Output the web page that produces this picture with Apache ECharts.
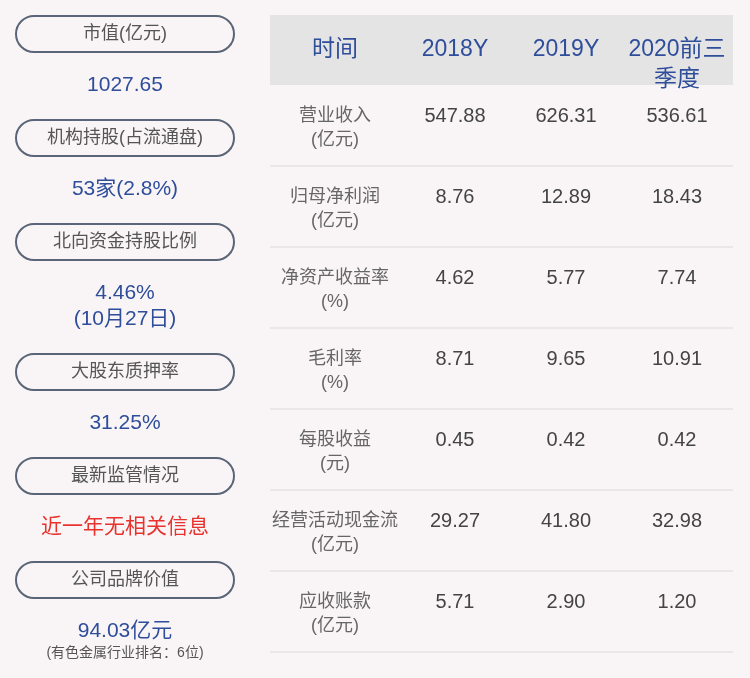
<!DOCTYPE html>
<html>
<head>
<meta charset="utf-8">
<script src="https://cdn.jsdelivr.net/npm/echarts@6/dist/echarts.min.js"></script>
<style>html,body{margin:0;padding:0;background:#f9f5f6}#main{width:750px;height:678px}</style>
</head>
<body>
<div id="main"></div>
<script>
// left panel
var pillLabels = ['市值(亿元)', '机构持股(占流通盘)', '北向资金持股比例', '大股东质押率', '最新监管情况', '公司品牌价值'];
var pillValues = ['1027.65', '53家(2.8%)', '4.46%\n(10月27日)', '31.25%', '近一年无相关信息', '94.03亿元'];
var brandNote = '(有色金属行业排名：6位)';

// table
var headers = ['时间', '2018Y', '2019Y', '2020前三\n季度'];
var rowLabels = ['营业收入\n(亿元)', '归母净利润\n(亿元)', '净资产收益率\n(%)', '毛利率\n(%)', '每股收益\n(元)', '经营活动现金流\n(亿元)', '应收账款\n(亿元)'];
var v2018 = ['547.88', '8.76', '4.62', '8.71', '0.45', '29.27', '5.71'];
var v2019 = ['626.31', '12.89', '5.77', '9.65', '0.42', '41.80', '2.90'];
var v2020 = ['536.61', '18.43', '7.74', '10.91', '0.42', '32.98', '1.20'];

var font = '"Liberation Sans", "Noto Sans CJK SC", sans-serif';
var blue = '#2e4d9a';
var els = [];

var pillY = [34, 138, 242, 372, 476, 580];
var valY = [85, 189, 306, 423, 527, 631];
pillLabels.forEach(function (t, i) {
    els.push({type: 'rect', shape: {x: 16, y: pillY[i] - 18, width: 218, height: 36, r: 18},
        style: {fill: 'none', stroke: '#5a6577', lineWidth: 2}});
    els.push({type: 'text', x: 125, y: pillY[i], style: {text: t, fill: '#555', font: '18px ' + font,
        align: 'center', verticalAlign: 'middle'}});
    els.push({type: 'text', x: 125, y: valY[i], style: {text: pillValues[i], fill: i === 4 ? '#e8322e' : blue,
        font: '21px ' + font, align: 'center', verticalAlign: 'middle', lineHeight: 26}});
});
els.push({type: 'text', x: 125, y: 653, style: {text: brandNote, fill: '#555', font: '14px ' + font,
    align: 'center', verticalAlign: 'middle'}});

var colX = [335, 455, 566, 677];
els.push({type: 'rect', shape: {x: 270, y: 15, width: 463, height: 70}, style: {fill: '#e4e4e4'}});
headers.forEach(function (h, i) {
    els.push({type: 'text', x: colX[i], y: i === 3 ? 35 : 50, style: {text: h, fill: blue, font: '23px ' + font,
        align: 'center', verticalAlign: i === 3 ? 'top' : 'middle', lineHeight: 30}});
});

rowLabels.forEach(function (lab, r) {
    var top = 85 + r * 81;
    els.push({type: 'text', x: colX[0], y: top + 43, style: {text: lab, fill: '#666', font: '18px ' + font,
        align: 'center', verticalAlign: 'middle', lineHeight: 24}});
    [v2018, v2019, v2020].forEach(function (arr, c) {
        els.push({type: 'text', x: colX[c + 1], y: top + 31, style: {text: arr[r], fill: '#444',
            font: '20px ' + font, align: 'center', verticalAlign: 'middle'}});
    });
    els.push({type: 'line', shape: {x1: 270, y1: top + 81, x2: 733, y2: top + 81},
        style: {stroke: '#e6e2e3', lineWidth: 1.5}});
});

var myChart = echarts.init(document.getElementById('main'));
myChart.setOption({backgroundColor: '#f9f5f6', graphic: els});
</script>
</body>
</html>
